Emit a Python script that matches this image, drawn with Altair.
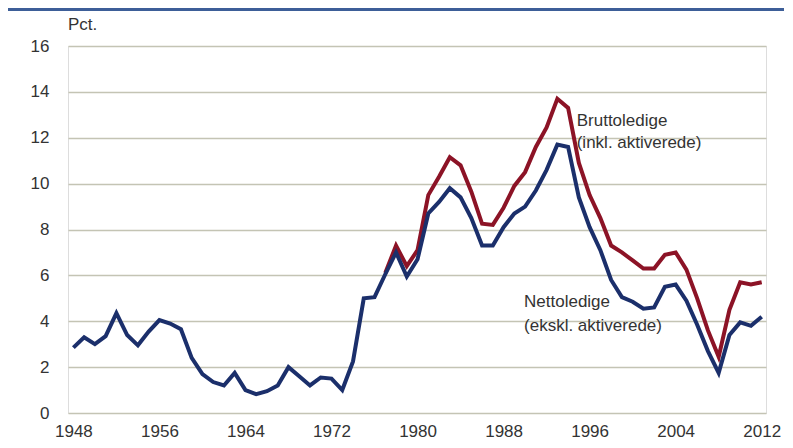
import altair as alt
import pandas as pd

years = list(range(1948, 2013))
netto = [2.85, 3.3, 3.0, 3.35, 4.35, 3.4, 2.95, 3.55, 4.05, 3.9,
         3.65, 2.4, 1.7, 1.35, 1.2, 1.75, 1.0, 0.82, 0.95, 1.2,
         2.0, 1.6, 1.2, 1.55, 1.5, 1.0, 2.25, 5.0, 5.05, 6.05,
         7.0, 5.95, 6.7, 8.7, 9.2, 9.8, 9.4, 8.5, 7.3, 7.3,
         8.1, 8.7, 9.0, 9.7, 10.6, 11.7, 11.6, 9.4, 8.1, 7.1,
         5.8, 5.05, 4.85, 4.55, 4.6, 5.5, 5.6, 4.9, 3.85, 2.7,
         1.75, 3.4, 3.95, 3.8, 4.2]
brutto_years = list(range(1977, 2013))
brutto = [6.1, 7.3, 6.4, 7.1, 9.5, 10.3, 11.15, 10.8, 9.65, 8.25,
          8.2, 8.95, 9.9, 10.5, 11.6, 12.45, 13.7, 13.3, 10.9, 9.5,
          8.5, 7.3, 7.0, 6.65, 6.3, 6.3, 6.9, 7.0, 6.25, 5.0,
          3.6, 2.45, 4.5, 5.7, 5.6, 5.7]
y_ticks = [0, 2, 4, 6, 8, 10, 12, 14, 16]
x_ticks = [1948, 1956, 1964, 1972, 1980, 1988, 1996, 2004, 2012]

labels = ["Bruttoledige", "(inkl. aktiverede)", "Nettoledige", "(ekskl. aktiverede)"]
label_x = [1994.8, 1994.8, 1989.9, 1989.9]
label_y = [12.75, 11.75, 4.85, 3.8]

FONT = "Liberation Sans Narrow, Liberation Sans, Arial Narrow, sans-serif"
BLUE = "#1b2f6b"
RED = "#8c1326"

df_n = pd.DataFrame({"year": years, "value": netto})
df_b = pd.DataFrame({"year": brutto_years, "value": brutto})
df_l = pd.DataFrame({"year": label_x, "value": label_y, "text": labels})

xscale = alt.Scale(domain=[1947.5, 2012.4], nice=False, zero=False)
yscale = alt.Scale(domain=[0, 16], nice=False)

xaxis = alt.Axis(values=x_ticks, format="d", title=None, grid=False, domain=False,
                 ticks=False, labelFontSize=17, labelColor="#333333", labelFont=FONT,
                 labelPadding=10, labelFlush=False, labelOverlap=False)
yaxis = alt.Axis(values=y_ticks, title=None, grid=True, gridColor="#c4c4b4",
                 gridWidth=1.5, domain=False, ticks=False, labelFontSize=17,
                 labelColor="#333333", labelFont=FONT, labelPadding=19)

base_n = alt.Chart(df_n).mark_line(color=BLUE, strokeWidth=4, strokeJoin="miter").encode(
    x=alt.X("year:Q", scale=xscale, axis=xaxis),
    y=alt.Y("value:Q", scale=yscale, axis=yaxis),
)
line_b = alt.Chart(df_b).mark_line(color=RED, strokeWidth=4, strokeJoin="miter").encode(
    x=alt.X("year:Q", scale=xscale),
    y=alt.Y("value:Q", scale=yscale),
)
text = alt.Chart(df_l).mark_text(align="left", baseline="middle", fontSize=17,
                                  font=FONT, color="#333333").encode(
    x=alt.X("year:Q", scale=xscale),
    y=alt.Y("value:Q", scale=yscale),
    text="text:N",
)
pct = alt.Chart(pd.DataFrame({"t": ["Pct."]})).mark_text(
    align="left", baseline="middle", fontSize=17, font=FONT, color="#333333"
).encode(x=alt.value(0), y=alt.value(-21), text="t:N")
topline = alt.Chart(pd.DataFrame({"a": [0]})).mark_rule(color="#3d5e98", strokeWidth=3).encode(
    x=alt.value(-60), x2=alt.value(780), y=alt.value(-36.5)
)

chart = alt.layer(line_b, base_n, text, pct, topline).properties(
    width=698, height=367,
    padding={"left": 60, "top": 38, "right": 18, "bottom": 25},
    autosize="none",
).configure_view(stroke=None).configure(background="white")

chart.save("out.html", embed_options={"renderer": "svg", "actions": False})
